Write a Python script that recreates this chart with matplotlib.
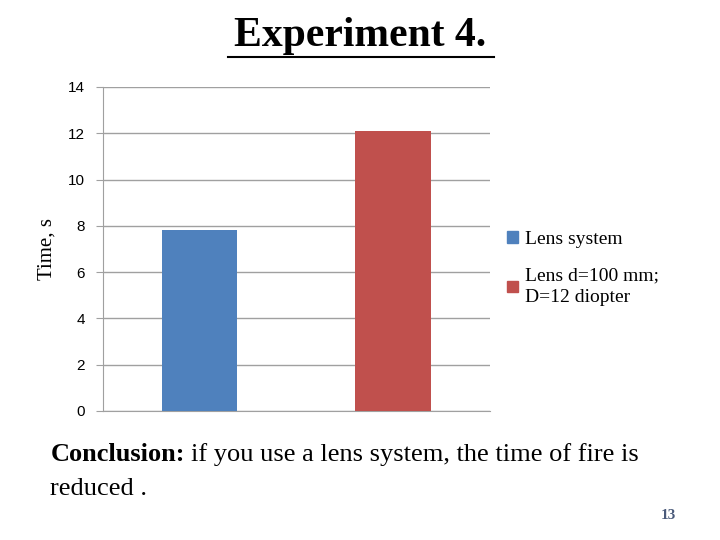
import matplotlib
matplotlib.use('Agg')
import matplotlib.pyplot as plt
from matplotlib.patches import Patch

categories = ["Lens system", "Lens d=100 mm;\nD=12 diopter"]
times = [7.8, 12.1]
colors = ["#4F81BD", "#C0504D"]
yticks = [0, 2, 4, 6, 8, 10, 12, 14]

plt.rcParams['font.family'] = ['Liberation Serif', 'DejaVu Serif']

fig = plt.figure(figsize=(7.2, 5.4), dpi=100)
fig.patch.set_facecolor('white')
ax = fig.add_axes([0.143, 0.239, 0.5375, 0.6])

ax.bar(range(len(times)), times, width=0.39, color=colors, zorder=3)
ax.set_xlim(-0.5, 1.5)
ax.set_ylim(0, 14)
ax.set_yticks(yticks)
ax.set_yticklabels([str(t) for t in yticks], fontsize=11,
                   family=['Liberation Sans', 'DejaVu Sans'])
ax.set_xticks([])
ax.grid(axis='y', color='#A0A0A0', linewidth=1, zorder=0)
for s in ['top', 'right']:
    ax.spines[s].set_visible(False)
ax.spines['left'].set_color('#A0A0A0')
ax.spines['bottom'].set_color('#A0A0A0')
ax.tick_params(axis='y', length=5, color='#A0A0A0', pad=8)
ax.set_ylabel("Time, s", fontsize=15, labelpad=8)

handles = [Patch(color=c) for c in colors]
leg = fig.legend(handles, categories, loc='upper left', bbox_to_anchor=(0.68, 0.605),
                 frameon=False, handlelength=0.55, handleheight=0.55,
                 handletextpad=0.35, labelspacing=1.0, fontsize=14)
for t in leg.get_texts():
    t.set_linespacing(1.4)

fig.text(0.5, 0.933, "Experiment 4.", ha='center', va='center',
         fontsize=30, fontweight='bold')
fig.add_artist(plt.Line2D([0.316, 0.686], [0.895, 0.895], color='black', lw=1.5))

fig.canvas.draw()
bold = fig.text(0.07, 0.158, "Conclusion:", fontsize=19, fontweight='bold', va='center')
r = fig.canvas.get_renderer()
bb = bold.get_window_extent(renderer=r)
x1 = bb.x1 / fig.bbox.width
fig.text(x1 + 0.008, 0.158, "if you use a lens system, the time of fire is",
         fontsize=19, va='center')
fig.text(0.07, 0.095, "reduced .", fontsize=19, va='center')
fig.text(0.928, 0.046, "13", fontsize=11, fontweight='bold', color='#4A5A7A',
         ha='center', va='center')

fig.savefig('out.png', dpi=100)
